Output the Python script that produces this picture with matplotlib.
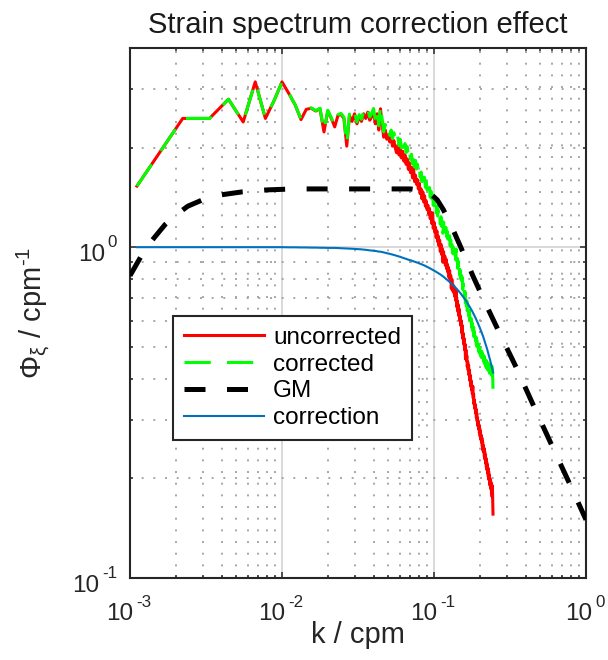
import numpy as np
import matplotlib
matplotlib.use("Agg")
import matplotlib.pyplot as plt
import matplotlib.transforms as mtransforms
from matplotlib.font_manager import FontProperties
from matplotlib.ticker import LogLocator, NullFormatter

plt.rcParams.update({
    "font.family": ["Liberation Sans", "DejaVu Sans"],
    "mathtext.fontset": "custom",
    "mathtext.rm": "Liberation Sans",
    "mathtext.it": "Liberation Sans:italic",
    "mathtext.bf": "Liberation Sans:bold",
    "axes.unicode_minus": False,
})

# wavenumber bins of a 900 m record: k = n / 900 cpm, n = 1..220
bin_index = np.arange(1, 221)
record_length = 900.0
k = bin_index / record_length

# measured strain spectrum (before the resolution correction)
phi_uncorrected = [
    1.53, 2.45, 2.45, 2.80, 2.39, 3.16, 2.45, 2.78, 3.16, 2.91,
    2.69, 2.43, 2.61, 2.63, 2.58, 2.62, 2.23, 2.58, 2.45, 2.31,
    2.50, 2.52, 2.45, 2.02, 2.50, 2.40, 2.53, 2.36, 2.48, 2.40,
    2.53, 2.45, 2.56, 2.42, 2.48, 2.56, 2.36, 2.53, 2.26, 2.62,
    2.36, 2.15, 2.26, 2.12, 2.18, 2.08, 2.15, 2.02, 2.10, 2.00,
    1.93, 2.03, 1.90, 1.98, 1.86, 1.95, 1.82, 1.90, 1.78, 1.85,
    1.72, 1.80, 1.68, 1.74, 1.62, 1.74, 1.58, 1.65, 1.55, 1.60,
    1.50, 1.56, 1.45, 1.50, 1.40, 1.47, 1.37, 1.43, 1.33, 1.38,
    1.30, 1.34, 1.26, 1.31, 1.22, 1.27, 1.18, 1.27, 1.14, 1.19,
    1.11, 1.15, 1.07, 1.12, 1.04, 1.08, 1.01, 1.05, 0.97, 1.02,
    0.95, 0.99, 0.90, 0.97, 0.91, 0.94, 0.88, 0.92, 0.86, 0.89,
    0.84, 0.87, 0.81, 0.85, 0.79, 0.82, 0.75, 0.80, 0.74, 0.77,
    0.73, 0.76, 0.71, 0.74, 0.69, 0.74, 0.66, 0.69, 0.64, 0.67,
    0.62, 0.65, 0.60, 0.62, 0.58, 0.60, 0.55, 0.58, 0.53, 0.55,
    0.51, 0.53, 0.49, 0.51, 0.46, 0.49, 0.455, 0.47, 0.435, 0.45,
    0.425, 0.44, 0.41, 0.425, 0.395, 0.41, 0.38, 0.395, 0.37, 0.38,
    0.36, 0.38, 0.35, 0.36, 0.335, 0.345, 0.325, 0.335, 0.315, 0.325,
    0.305, 0.315, 0.298, 0.305, 0.288, 0.298, 0.282, 0.29, 0.275, 0.283,
    0.268, 0.278, 0.262, 0.27, 0.257, 0.265, 0.25, 0.258, 0.243, 0.252,
    0.24, 0.247, 0.233, 0.241, 0.228, 0.236, 0.222, 0.23, 0.216, 0.224,
    0.212, 0.22, 0.207, 0.215, 0.202, 0.21, 0.198, 0.205, 0.192, 0.2,
    0.19, 0.197, 0.186, 0.194, 0.18, 0.19, 0.176, 0.19, 0.17, 0.156,
]

# spectral transfer function of the instrument at the same wavenumbers
correction = [
    1.000, 1.000, 1.000, 1.000, 1.000, 1.000, 1.000, 1.000, 1.000, 0.999,
    0.999, 0.998, 0.998, 0.997, 0.997, 0.996, 0.996, 0.995, 0.995, 0.995,
    0.994, 0.993, 0.992, 0.991, 0.990, 0.989, 0.988, 0.987, 0.986, 0.985,
    0.983, 0.982, 0.980, 0.978, 0.977, 0.975, 0.974, 0.972, 0.970, 0.969,
    0.967, 0.964, 0.962, 0.959, 0.957, 0.955, 0.952, 0.950, 0.947, 0.945,
    0.942, 0.940, 0.937, 0.935, 0.932, 0.929, 0.927, 0.924, 0.922, 0.919,
    0.917, 0.915, 0.913, 0.911, 0.909, 0.906, 0.904, 0.902, 0.900, 0.898,
    0.896, 0.893, 0.891, 0.889, 0.887, 0.884, 0.882, 0.880, 0.877, 0.875,
    0.872, 0.870, 0.867, 0.865, 0.862, 0.860, 0.857, 0.855, 0.852, 0.850,
    0.847, 0.845, 0.842, 0.840, 0.837, 0.835, 0.832, 0.830, 0.827, 0.825,
    0.822, 0.819, 0.817, 0.814, 0.811, 0.808, 0.805, 0.803, 0.800, 0.797,
    0.794, 0.791, 0.788, 0.785, 0.783, 0.780, 0.777, 0.774, 0.771, 0.768,
    0.765, 0.762, 0.759, 0.756, 0.754, 0.751, 0.748, 0.745, 0.742, 0.739,
    0.736, 0.733, 0.730, 0.727, 0.724, 0.720, 0.717, 0.714, 0.711, 0.708,
    0.705, 0.701, 0.698, 0.695, 0.692, 0.688, 0.685, 0.682, 0.678, 0.675,
    0.672, 0.668, 0.665, 0.662, 0.659, 0.655, 0.652, 0.649, 0.645, 0.642,
    0.639, 0.635, 0.632, 0.628, 0.625, 0.621, 0.618, 0.614, 0.611, 0.607,
    0.603, 0.600, 0.596, 0.593, 0.589, 0.585, 0.582, 0.578, 0.575, 0.571,
    0.567, 0.564, 0.560, 0.557, 0.553, 0.549, 0.546, 0.542, 0.539, 0.535,
    0.531, 0.527, 0.524, 0.520, 0.516, 0.512, 0.508, 0.505, 0.501, 0.497,
    0.493, 0.489, 0.485, 0.481, 0.477, 0.474, 0.470, 0.466, 0.462, 0.458,
    0.454, 0.450, 0.446, 0.442, 0.438, 0.434, 0.430, 0.426, 0.422, 0.418,
]

# corrected spectrum: measured spectrum divided by the transfer function
phi_corrected = np.array(phi_uncorrected) / np.array(correction)

# Garrett-Munk reference strain spectrum
k_gm = [1.0e-3, 1.2e-3, 1.4e-3, 1.7e-3, 2.0e-3, 2.4e-3, 3.0e-3, 4.0e-3,
        5.5e-3, 8.0e-3, 1.2e-2, 2.0e-2, 4.0e-2, 7.0e-2, 8.5e-2, 9.5e-2,
        0.105, 0.115, 0.13, 0.15, 0.18, 0.22, 0.27, 0.35, 0.45, 0.6, 0.8, 1.0]
phi_gm = [0.82, 0.95, 1.05, 1.17, 1.25, 1.33, 1.39, 1.44,
          1.47, 1.49, 1.50, 1.50, 1.50, 1.50, 1.48, 1.45,
          1.39, 1.30, 1.16, 1.00, 0.82, 0.67, 0.55, 0.43, 0.333, 0.25, 0.188, 0.15]

# decade tick labels (value, exponent text)
x_decades = [1e-3, 1e-2, 1e-1, 1e0]
x_exponents = ["-3", "-2", "-1", "0"]
y_decades = [1e-1, 1e0]
y_exponents = ["-1", "0"]

DPI = 100
fig = plt.figure(figsize=(6.08, 6.60), dpi=DPI)
ax = fig.add_axes([130 / 608, 1 - 578 / 660, 456 / 608, 530 / 660])

ax.plot(k, phi_uncorrected, color="#ff0000", lw=2.2, label="uncorrected", zorder=3)
ax.plot(k, phi_corrected, color="#00ff00", lw=2.2, dashes=(8.6, 5.3),
        label="corrected", zorder=4)
ax.plot(k_gm, phi_gm, color="black", lw=3.6, dashes=(4.2, 4.3),
        label="GM", zorder=5)
ax.plot(k, correction, color="#0072BD", lw=1.5, label="correction", zorder=6)

ax.set_xscale("log")
ax.set_yscale("log")
ax.set_xlim(1e-3, 1.0)
ax.set_ylim(0.1, 4.0)

ax.xaxis.set_major_locator(LogLocator(base=10, numticks=10))
ax.xaxis.set_minor_locator(LogLocator(base=10, subs=np.arange(2, 10), numticks=20))
ax.yaxis.set_major_locator(LogLocator(base=10, numticks=10))
ax.yaxis.set_minor_locator(LogLocator(base=10, subs=np.arange(2, 10), numticks=20))
ax.xaxis.set_minor_formatter(NullFormatter())
ax.yaxis.set_minor_formatter(NullFormatter())

ax.set_axisbelow(True)
ax.grid(True, which="major", color="#d9d9d9", lw=1.4, ls="-")
ax.grid(True, which="minor", color="#a6a6a6", lw=1.4, ls=(0, (1, 5)))

frame_color = "#262626"
for s in ax.spines.values():
    s.set_color(frame_color)
    s.set_linewidth(1.5)
ax.tick_params(which="both", direction="in", top=True, right=True,
               color=frame_color, width=1.1,
               labelbottom=False, labelleft=False)
ax.tick_params(which="major", length=4.2)
ax.tick_params(which="minor", length=2.4)

# "10" with a raised exponent, placed by hand in pixel offsets
tick_size = 17.5
exp_size = tick_size * 0.7
fp_base = FontProperties(family="Liberation Sans", size=tick_size)
fp_exp = FontProperties(family="Liberation Sans", size=exp_size)
renderer = fig.canvas.get_renderer()


def text_w(s, fp):
    w, _, _ = renderer.get_text_width_height_descent(s, fp, ismath=False)
    return w


def shifted(base_transform, dx_px, dy_px):
    return base_transform + mtransforms.ScaledTranslation(
        dx_px / DPI, dy_px / DPI, fig.dpi_scale_trans)


gap = 2.5
w10 = text_w("10", fp_base)
xt = mtransforms.blended_transform_factory(ax.transData, ax.transAxes)
for val, e in zip(x_decades, x_exponents):
    we = text_w(e, fp_exp)
    left = -(w10 + gap + we) / 2.0 - 1.0
    ax.text(val, 0, "10", fontproperties=fp_base, color=frame_color,
            ha="left", va="baseline", transform=shifted(xt, left, -42))
    ax.text(val, 0, e, fontproperties=fp_exp, color=frame_color,
            ha="left", va="baseline",
            transform=shifted(xt, left + w10 + gap, -29))

yt = mtransforms.blended_transform_factory(ax.transAxes, ax.transData)
for val, e in zip(y_decades, y_exponents):
    we = text_w(e, fp_exp)
    ax.text(0, val, e, fontproperties=fp_exp, color=frame_color,
            ha="right", va="baseline", transform=shifted(yt, -13, 0))
    ax.text(0, val, "10", fontproperties=fp_base, color=frame_color,
            ha="right", va="baseline",
            transform=shifted(yt, -13 - we - gap, -14))

ax.set_title("Strain spectrum correction effect", fontsize=21, color="#1a1a1a", pad=11)
ax.set_xlabel("k / cpm", fontsize=21, color=frame_color)
ax.xaxis.set_label_coords(0.5, -0.082)
ax.set_ylabel("Φ$_{\\mathregular{ξ}}$ / cpm$^{\\mathregular{\u20101}}$", fontsize=21,
              color=frame_color)
ax.yaxis.set_label_coords(-0.172, 0.5)

leg = ax.legend(loc="lower left", bbox_to_anchor=(0.094, 0.26), borderaxespad=0,
                fontsize=17.5, frameon=True, fancybox=False, framealpha=1,
                handlelength=3.3, handletextpad=0.37, labelspacing=0.2,
                borderpad=0.45)
leg.get_frame().set_edgecolor(frame_color)
leg.get_frame().set_linewidth(1.5)
for t in leg.get_texts():
    t.set_color("black")
leg.set_zorder(10)

fig.savefig("out.png", dpi=DPI)
